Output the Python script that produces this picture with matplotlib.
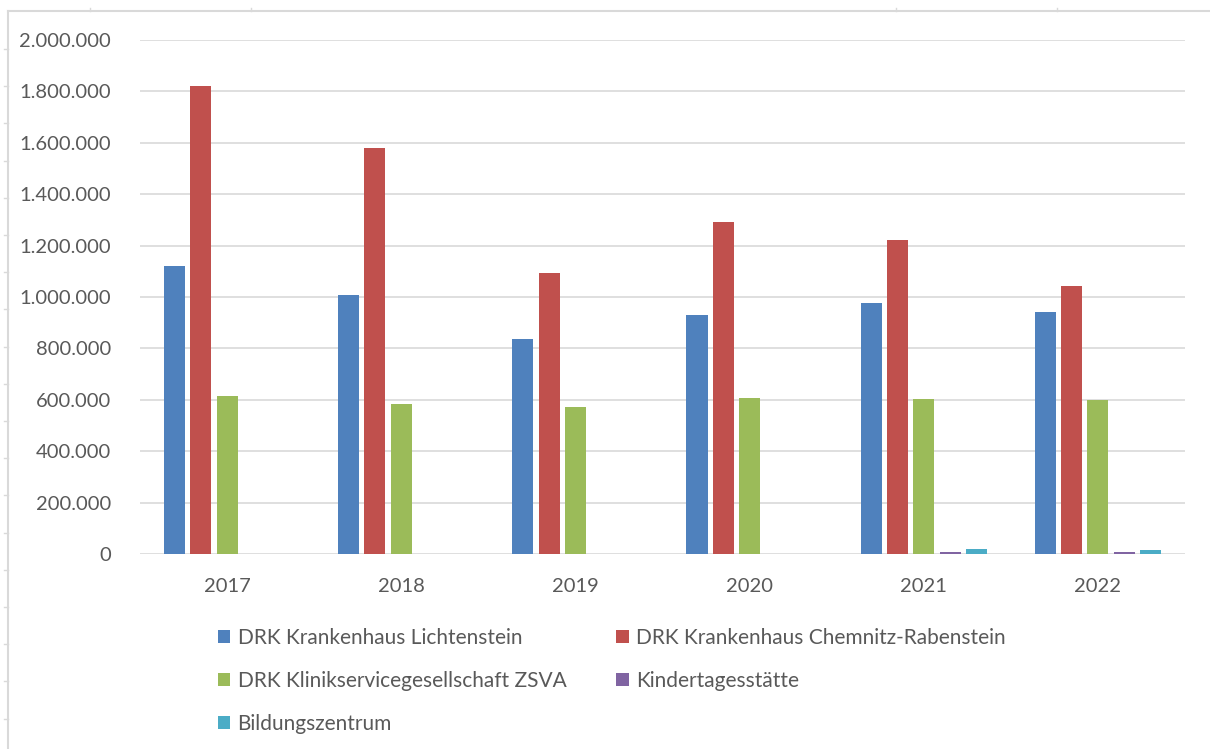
import numpy as np
import matplotlib.pyplot as plt
from matplotlib.ticker import FuncFormatter
from matplotlib.lines import Line2D

plt.rcParams['font.family'] = ['Lato', 'DejaVu Sans']

# Daten
jahre = ['2017', '2018', '2019', '2020', '2021', '2022']
lichtenstein = [1120000, 1008000, 837000, 930000, 977000, 942000]
chemnitz = [1821000, 1580000, 1093000, 1292000, 1222000, 1043000]
zsva = [615000, 584000, 572000, 607000, 603000, 599000]
kita = [0, 0, 0, 0, 9000, 8000]
bildung = [0, 0, 0, 0, 20000, 14000]

serien = [
    ('DRK Krankenhaus Lichtenstein', lichtenstein, '#4F81BD'),
    ('DRK Krankenhaus Chemnitz-Rabenstein', chemnitz, '#C0504D'),
    ('DRK Klinikservicegesellschaft ZSVA', zsva, '#9BBB59'),
    ('Kindertagesstätte', kita, '#8064A2'),
    ('Bildungszentrum', bildung, '#4BACC6'),
]

fig = plt.figure(figsize=(12.1, 7.49), dpi=100)
ax = fig.add_axes([140/1210, 1-554/749, 1045/1210, 514/749])

x = np.arange(len(jahre))
handles = []
for i, (name, werte, farbe) in enumerate(serien):
    b = ax.bar(x + (i-2)*0.151, werte, width=0.121, color=farbe,
               linewidth=0, label=name, zorder=3)
    handles.append(b)

ax.set_xlim(-0.5, 5.5)
ax.set_ylim(0, 2000000)
ax.set_yticks(np.arange(0, 2000001, 200000))
ax.yaxis.set_major_formatter(FuncFormatter(lambda v, p: f"{int(v):,}".replace(',', '.')))
ax.set_xticks(x)
ax.set_xticklabels(jahre)
ax.grid(axis='y', color='#D9D9D9', linewidth=1.2, zorder=0)
for s in ax.spines.values():
    s.set_visible(False)
ax.tick_params(axis='both', length=0, labelsize=14.5, colors='#595959')
ax.tick_params(axis='y', pad=21)
ax.tick_params(axis='x', pad=17)

# Legende zeilenweise wie im Original
reihenfolge = [0, 2, 4, 1, 3]
leg = fig.legend([handles[i] for i in reihenfolge], [serien[i][0] for i in reihenfolge],
                 ncol=2, loc='upper left', bbox_to_anchor=(199/1210, 1-609/749),
                 frameon=False, fontsize=15, labelcolor='#595959',
                 handlelength=0.6, handleheight=0.6, handletextpad=0.35,
                 columnspacing=2.4, labelspacing=1.1)

# Rahmen des Blatts
fig.add_artist(Line2D([8/1210, 8/1210], [0, 1-11/749], transform=fig.transFigure, color='#D9D9D9', linewidth=1.5))
fig.add_artist(Line2D([8/1210, 1], [1-11/749, 1-11/749], transform=fig.transFigure, color='#D9D9D9', linewidth=1.5))
for yy in np.arange(49, 749, 37.2):
    fig.add_artist(Line2D([4/1210, 8/1210], [1-yy/749, 1-yy/749], transform=fig.transFigure, color='#D9D9D9', linewidth=1))
for xx in [90, 251, 896, 1057]:
    fig.add_artist(Line2D([xx/1210, xx/1210], [1-11/749, 1-8/749], transform=fig.transFigure, color='#D9D9D9', linewidth=1))

plt.savefig('out.png', dpi=100)
